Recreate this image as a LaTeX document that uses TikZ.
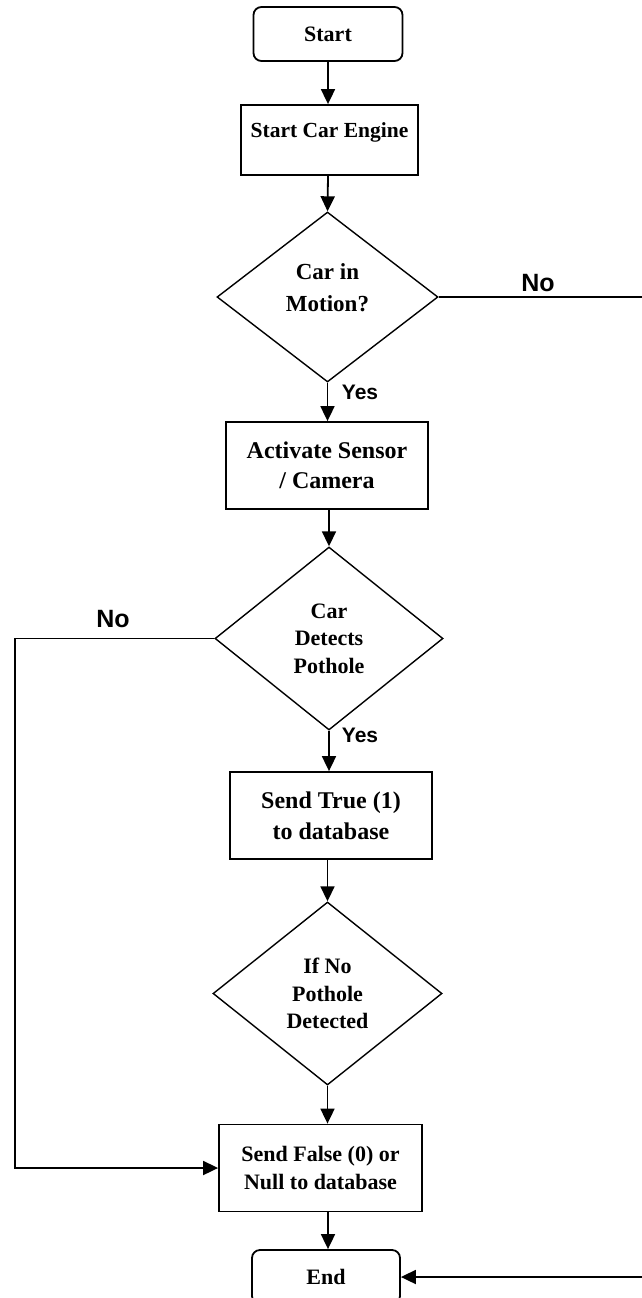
\documentclass[tikz,border=0pt]{standalone}
\usepackage{fontspec}
\setmainfont{Liberation Serif}
\newfontfamily\ynfont{Liberation Sans}
\usetikzlibrary{shapes.geometric,arrows.meta}

\begin{document}
\begin{tikzpicture}[x=1pt,y=-1pt,line width=1.8pt,
  term/.style={draw,rounded corners=8pt,minimum width=149pt,minimum height=54pt,
    inner sep=0pt,font=\bfseries\fontsize{22}{28}\selectfont},
  proc/.style={draw,minimum width=202pt,minimum height=87pt,inner sep=0pt,
    align=center,font=\bfseries\fontsize{24}{30}\selectfont},
  dec/.style={draw,diamond,inner sep=0pt,line width=1.4pt,align=center,
    font=\bfseries\fontsize{22}{27.5}\selectfont},
  flow/.style={-{Triangle[length=15pt,width=14pt]}},
  yn/.style={font=\ynfont\bfseries\fontsize{21}{24}\selectfont}]
\def\cx{328}
\useasboundingbox (0,0) rectangle (642,1298);

  % boxes and decisions
  \node[term] (start) at (\cx,34) {Start};
  \node[proc,minimum width=177pt,minimum height=70pt,font=\bfseries\fontsize{21.5}{28}\selectfont,
    text height=14pt,text depth=20pt] (engine) at (329.5,140) {Start Car Engine};
  \node[dec,minimum width=221pt,minimum height=170pt,text height=47pt,text depth=19pt,
    font=\bfseries\fontsize{23}{32}\selectfont] (motion) at (327.5,297) {Car in\\Motion?};
  \node[proc] (sensor) at (327,465.5) {Activate Sensor\\/ Camera};
  \node[dec,minimum width=228pt,minimum height=183pt] (detect) at (329,638.5) {Car\\Detects\\Pothole};
  \node[proc,font=\bfseries\fontsize{24}{31}\selectfont] (sendtrue) at (331,815.5) {Send True (1)\\to database};
  \node[dec,minimum width=229pt,minimum height=183pt] (nopot) at (327.5,993.5) {If No\\Pothole\\Detected};
  \node[proc,minimum width=203pt,font=\bfseries\fontsize{22}{28}\selectfont] (sendfalse) at (320.5,1168) {Send False (0) or\\Null to database};
  \node[term,minimum width=148pt] (stop) at (326,1277) {End};

  % yes / no
  \node[yn,font=\ynfont\bfseries\fontsize{25}{28}\selectfont] (no1) at (538,283) {No};
  \node[yn] (yes1) at (360,392) {Yes};
  \node[yn,font=\ynfont\bfseries\fontsize{25}{28}\selectfont] (no2) at (113,619) {No};
  \node[yn] (yes2) at (360,735) {Yes};

  % straight flow
  \draw[flow] (start.south -| \cx,0) -- (engine.north -| \cx,0);
  \draw[flow] (engine.south -| \cx,0) -- (motion.north);
  \draw[flow] (motion.south) -- (sensor.north -| motion.south);
  \draw[flow] (sensor.south -| detect.north) -- (detect.north);
  \draw[flow] (detect.south) -- (sendtrue.north -| detect.south);
  \draw[flow] (sendtrue.south -| nopot.north) -- (nopot.north);
  \draw[flow] (nopot.south) -- (sendfalse.north -| nopot.south);
  \draw[flow] (sendfalse.south -| \cx,0) -- (stop.north -| \cx,0);

  % loops
  \coordinate (lft) at (15,0);
  \coordinate (rgt) at (642.4,0);
  \draw[flow] (detect.west) -- (detect.west -| lft) -- (lft |- sendfalse.west) -- (sendfalse.west);
  \draw[flow] (motion.east) -- (motion.east -| rgt) -- (rgt |- stop.east) -- (stop.east);
\end{tikzpicture}
\end{document}
